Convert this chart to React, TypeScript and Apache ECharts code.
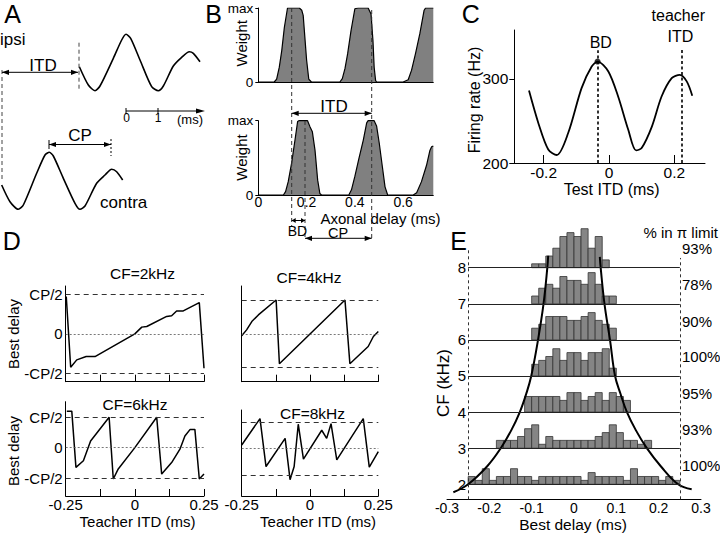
import React, { useEffect, useRef } from "react";
import * as echarts from "echarts";

const FONT = '"Liberation Sans", Arial, Helvetica, sans-serif';

// ---------- Panel A: schematic waveforms (time in ms, amplitude arbitrary)
const ipsiTime = [-1.458, -1.177, -0.969, -0.8125, -0.396, -0.135, 0, 0.146, 0.4375, 0.802, 1.01, 1.167, 1.479, 1.74, 1.979, 2.104, 2.3125];
const ipsiAmp = [-4.2, -22.5, -28.2, -23.5, 4.2, 22.5, 28.2, 24.2, 2.5, -24.2, -28.2, -23.5, -3.5, 5.2, 10.8, 9.2, 0.8];
const contraTime = [-3.885, -3.625, -3.365, -3.208, -2.792, -2.531, -2.396, -2.271, -1.958, -1.594, -1.4375, -1.281, -0.917, -0.656, -0.448, -0.292, -0.104];
const contraAmp = [-4, -20.7, -28.3, -24, 7.7, 26, 28.7, 25, 2.7, -22.3, -28.3, -25, -2.3, 6, 11.7, 9.3, 1];

// ---------- Panel B: weight vs axonal delay (ms), weight 0..max(=1)
const weightTop: [number, number][] = [
  [0, 0], [0.066, 0], [0.076, 0.04], [0.087, 0.2], [0.097, 0.42], [0.108, 0.74], [0.121, 1], [0.17, 1], [0.18, 0.97], [0.186, 0.9], [0.193, 0.6], [0.2, 0.3], [0.209, 0.04], [0.22, 0],
  [0.338, 0], [0.348, 0.045], [0.359, 0.18], [0.37, 0.38], [0.384, 0.69], [0.4, 0.99], [0.414, 1], [0.455, 1], [0.467, 0.92], [0.475, 0.56], [0.48, 0.2], [0.486, 0.02], [0.49, 0],
  [0.6, 0], [0.621, 0.03], [0.635, 0.16], [0.651, 0.38], [0.669, 0.65], [0.687, 0.97], [0.693, 1], [0.725, 1],
];
const weightBottom: [number, number][] = [
  [0, 0], [0.104, 0], [0.113, 0.045], [0.124, 0.18], [0.138, 0.43], [0.152, 0.74], [0.163, 0.99], [0.168, 1], [0.204, 1], [0.214, 0.92], [0.224, 0.85], [0.235, 0.6], [0.246, 0.2], [0.255, 0.02], [0.262, 0],
  [0.375, 0], [0.386, 0.07], [0.4, 0.25], [0.416, 0.48], [0.435, 0.74], [0.449, 0.97], [0.455, 1], [0.48, 1], [0.49, 0.93], [0.501, 0.7], [0.514, 0.38], [0.525, 0.11], [0.536, 0],
  [0.642, 0], [0.656, 0.03], [0.676, 0.18], [0.697, 0.4], [0.711, 0.6], [0.718, 0.65], [0.725, 0.66],
];

// ---------- Panel C: firing rate (Hz) vs test ITD (ms)
const firingRate: [number, number][] = [
  [-0.245, 286], [-0.216, 247], [-0.186, 216], [-0.16, 209.5], [-0.125, 235.6], [-0.084, 289], [-0.053, 314.6], [-0.035, 320.5],
  [-0.002, 308.7], [0.028, 279], [0.059, 239.5], [0.083, 215], [0.1, 217.8], [0.131, 243], [0.161, 279], [0.192, 300.8],
  [0.217, 304.7], [0.238, 297], [0.255, 280],
];
const bdPoint: [number, number] = [-0.035, 320.5];
const teacherItd = 0.2225;

// ---------- Panel D: best delay (units of CP/2) vs teacher ITD (ms)
const bestDelay2k: [number, number][] = [
  [-0.248, 0.945], [-0.232, -0.844], [-0.21, -0.658], [-0.176, -0.574], [-0.144, -0.574], [0, 0], [0.025, 0.17], [0.043, 0.186],
  [0.115, 0.44], [0.133, 0.456], [0.151, 0.58], [0.175, 0.58], [0.233, 0.79], [0.25, -0.87],
];
const bestDelay6k: [number, number][] = [
  [-0.246, 1.2], [-0.228, 1.2], [-0.213, -0.65], [-0.186, -0.43], [-0.16, 0.22], [-0.093, 1.0], [-0.078, -1.03], [-0.06, -0.7],
  [0, 0], [0.079, 1.0], [0.097, -0.87], [0.133, -0.49], [0.163, -0.05], [0.181, 0.38], [0.2, 0.6], [0.217, 0.6], [0.233, -1.03], [0.25, -0.87],
];
const bestDelay4k: [number, number][] = [
  [-0.25, -0.06], [-0.232, 0.12], [-0.213, 0.37], [-0.189, 0.57], [-0.124, 1.02], [-0.112, -0.9], [0.128, 1.02], [0.146, -0.9],
  [0.213, -0.38], [0.232, -0.08], [0.25, 0.07],
];
const bestDelay8k: [number, number][] = [
  [-0.25, 0.14], [-0.183, 1.14], [-0.161, -0.68], [-0.091, 0.39], [-0.073, -1.18], [-0.058, -0.68], [-0.043, 0.93], [-0.024, -0.4],
  [0.043, 0.7], [0.061, 0.39], [0.077, 0.95], [0.098, -0.43], [0.195, 1.14], [0.217, -0.7], [0.25, -0.11],
];

// ---------- Panel E: best-delay histograms per CF (bins of 1/60 ms)
const cfRows = [8, 7, 6, 5, 4, 3, 2];
const rowStartBin = [-6, -6, -6, -6, -7, -11, -15];
const counts8 = [1, 1, 3, 5, 8, 9, 8, 10, 5, 8, 2];
const counts7 = [2, 4, 5, 4, 7, 6, 6, 5, 8, 5, 2, 2];
const counts6 = [3, 4, 6, 6, 6, 5, 5, 6, 7, 5, 4, 3];
const counts5 = [3, 4, 5, 7, 4, 6, 6, 4, 6, 6, 7, 2];
const counts4 = [4, 4, 4, 4, 4, 3, 5, 5, 3, 4, 5, 3, 5, 4, 3];
const counts3 = [2, 2, 2, 3, 5, 6, 1, 3, 2, 2, 2, 2, 2, 2, 3, 4, 6, 4, 2, 2, 1, 2];
const counts2 = [2, 1, 4, 1, 2, 2, 4, 2, 2, 1, 2, 2, 2, 2, 2, 2, 1, 3, 2, 2, 2, 2, 1, 4, 2, 2, 2, 1, 2, 1];
const rowCounts = [counts8, counts7, counts6, counts5, counts4, counts3, counts2];
const piPercent = ["93%", "78%", "90%", "100%", "95%", "93%", "100%"];
const piLimitLeft: [number, number][] = [
  [-0.285, 1.78], [-0.25, 2], [-0.205, 2.5], [-0.173, 3], [-0.148, 3.5], [-0.128, 4], [-0.113, 4.5], [-0.101, 5], [-0.085, 6], [-0.072, 7], [-0.063, 8], [-0.061, 8.33],
];
const piLimitRight: [number, number][] = [
  [0.061, 8.3], [0.063, 8], [0.072, 7], [0.085, 6], [0.097, 5], [0.11, 4.5], [0.125, 4], [0.146, 3.5], [0.172, 3], [0.205, 2.5], [0.246, 2], [0.278, 1.86],
];
const histXTicks = [-0.3, -0.2, -0.1, 0, 0.1, 0.2, 0.3];

const binWidth = 1 / 60;
const countScale = 0.108; // kHz of row height per count

function T(text: string, x: number, y: number, size: number, align = "center", rot = 0) {
  return {
    type: "text", x, y, rotation: rot, silent: true, z: 100,
    style: { text, fill: "#000", font: `${size}px ${FONT}`, textAlign: align, textVerticalAlign: "middle" },
  };
}
function L(x1: number, y1: number, x2: number, y2: number, dash?: number[], w = 1, color = "#000") {
  return { type: "line", silent: true, z: 100, shape: { x1, y1, x2, y2 }, style: { stroke: color, lineWidth: w, lineDash: dash } };
}
function head(x: number, y: number, dir: "l" | "r", s = 7) {
  const d = dir === "r" ? -s : s;
  return { type: "polygon", silent: true, z: 100, shape: { points: [[x, y], [x + d, y - 2.6], [x + d, y + 2.6]] }, style: { fill: "#000" } };
}
function dbl(x1: number, x2: number, y: number, s = 7) {
  return [L(x1, y, x2, y, undefined, 1), head(x1, y, "l", s), head(x2, y, "r", s)];
}

function buildOption() {
  const black = { color: "#000", width: 1 };
  const line = { show: true, onZero: false, lineStyle: black };
  const noSplit = { show: false };
  const lbl = (size: number) => ({ color: "#000", fontFamily: FONT, fontSize: size });

  const grid = [
    { left: 0, top: 32, width: 230, height: 61 },
    { left: 0, top: 150, width: 230, height: 62 },
    { left: 258.3, top: 8, width: 175, height: 74 },
    { left: 258.3, top: 120.7, width: 175, height: 74.3 },
    { left: 514.3, top: 30, width: 190.7, height: 133 },
    { left: 65.7, top: 286, width: 138.3, height: 95.7 },
    { left: 65.7, top: 401.7, width: 138.3, height: 94.3 },
    { left: 241.7, top: 286, width: 136.6, height: 95.7 },
    { left: 241.7, top: 410, width: 136.6, height: 86 },
    { left: 447, top: 229.8, width: 254, height: 269.5 },
  ];

  const dX = (gi: number, labels: boolean) => ({
    gridIndex: gi, type: "value", min: -0.25, max: 0.25, interval: 0.125,
    axisLine: line,
    axisTick: { show: true, inside: true, length: 7, lineStyle: black },
    axisLabel: labels
      ? { show: true, customValues: [-0.25, 0, 0.25], formatter: (v: number) => (v === 0 ? "0" : v.toFixed(2)), margin: 1, ...lbl(15) }
      : { show: false },
    splitLine: noSplit,
  });
  const dY = (gi: number, min: number, max: number, labels: boolean) => ({
    gridIndex: gi, type: "value", min, max,
    axisLine: line,
    axisTick: { show: false },
    axisLabel: labels
      ? { show: true, customValues: [-1, 0, 1], formatter: (v: number) => (v === 1 ? "CP/2" : v === -1 ? "-CP/2" : "0"), margin: 3, ...lbl(15) }
      : { show: false },
    splitLine: noSplit,
  });

  const xAxis = [
    { gridIndex: 0, type: "value", min: -3.9375, max: 3.25, show: false },
    { gridIndex: 1, type: "value", min: -3.9375, max: 3.25, show: false },
    { gridIndex: 2, type: "value", min: 0, max: 0.725, axisLine: line, axisTick: { show: false }, axisLabel: { show: false }, splitLine: noSplit },
    {
      gridIndex: 3, type: "value", min: 0, max: 0.725, axisLine: line, axisTick: { show: false },
      axisLabel: { customValues: [0, 0.2, 0.4, 0.6], formatter: (v: number) => (v === 0 ? "0" : v.toFixed(1)), margin: 0, ...lbl(14) },
      splitLine: noSplit,
    },
    {
      gridIndex: 4, type: "value", min: -0.29, max: 0.294, axisLine: line,
      axisTick: { show: true, inside: true, length: 8, customValues: [-0.2, 0, 0.2], lineStyle: black },
      axisLabel: { customValues: [-0.2, 0, 0.2], formatter: (v: number) => (v === 0 ? "0" : v.toFixed(1)), margin: 1, ...lbl(15.5) },
      splitLine: noSplit,
    },
    dX(5, false), dX(6, true), dX(7, false), dX(8, true),
    {
      gridIndex: 9, type: "value", min: -0.3, max: 0.3, axisLine: line, axisTick: { show: false },
      axisLabel: { customValues: histXTicks, formatter: (v: number) => (v === 0 ? "0" : v.toFixed(1)), margin: 2, ...lbl(14) },
      splitLine: noSplit,
    },
  ];

  const bY = (gi: number) => ({
    gridIndex: gi, type: "value", min: 0, max: 1,
    axisLine: line,
    axisTick: { show: true, length: 3, customValues: [0, 1], lineStyle: black },
    axisLabel: { customValues: [0, 1], formatter: (v: number) => (v === 1 ? "max" : "0"), margin: 5, ...lbl(13.5) },
    splitLine: noSplit,
  });

  const yAxis = [
    { gridIndex: 0, type: "value", min: -30.5, max: 30.5, show: false },
    { gridIndex: 1, type: "value", min: -31, max: 31, show: false },
    bY(2), bY(3),
    {
      gridIndex: 4, type: "value", min: 200, max: 358,
      axisLine: line,
      axisTick: { show: true, length: 5, customValues: [200, 300], lineStyle: black },
      axisLabel: { customValues: [200, 300], margin: 6, ...lbl(15.5) },
      splitLine: noSplit,
    },
    dY(5, -1.21, 1.21, true), dY(6, -1.59, 1.51, true), dY(7, -1.44, 1.44, false), dY(8, -1.8, 1.47, false),
    {
      gridIndex: 9, type: "value", min: 1.584, max: 9.05, offset: -21,
      axisLine: { show: false, onZero: false }, axisTick: { show: false },
      axisLabel: { customValues: cfRows.slice().reverse(), margin: 2, ...lbl(15) },
      splitLine: noSplit,
    },
  ];

  const refLines = {
    symbol: ["none", "none"], silent: true, label: { show: false }, animation: false,
    data: [
      { yAxis: 1, lineStyle: { type: [5, 4], color: "#333", width: 1 } },
      { yAxis: -1, lineStyle: { type: [5, 4], color: "#333", width: 1 } },
      { yAxis: 0, lineStyle: { type: [2, 2], color: "#555", width: 0.8 } },
    ],
  };
  const dSeries = (i: number, data: [number, number][]) => ({
    type: "line", xAxisIndex: i, yAxisIndex: i, data, symbol: "none",
    lineStyle: { color: "#000", width: 1.5 }, markLine: refLines, z: 3,
  });

  const histData: number[][] = [];
  cfRows.forEach((cf, r) => {
    rowCounts[r].forEach((c, i) => histData.push([(rowStartBin[r] + i) * binWidth, cf, c]));
  });

  const series: any[] = [
    { type: "line", xAxisIndex: 0, yAxisIndex: 0, data: ipsiTime.map((t, i) => [t, ipsiAmp[i]]), symbol: "none", smooth: 0.25, lineStyle: { color: "#000", width: 1.6 } },
    { type: "line", xAxisIndex: 1, yAxisIndex: 1, data: contraTime.map((t, i) => [t, contraAmp[i]]), symbol: "none", smooth: 0.25, lineStyle: { color: "#000", width: 1.6 } },
    { type: "line", xAxisIndex: 2, yAxisIndex: 2, data: weightTop, symbol: "none", lineStyle: { color: "#000", width: 1.2 }, areaStyle: { color: "#808080", opacity: 1 } },
    { type: "line", xAxisIndex: 3, yAxisIndex: 3, data: weightBottom, symbol: "none", lineStyle: { color: "#000", width: 1.2 }, areaStyle: { color: "#808080", opacity: 1 } },
    {
      type: "line", xAxisIndex: 4, yAxisIndex: 4, data: firingRate, symbol: "none", smooth: 0.3, lineStyle: { color: "#000", width: 1.8 },
      markLine: {
        symbol: ["none", "none"], silent: true, label: { show: false }, animation: false,
        lineStyle: { type: [3, 2.5], color: "#000", width: 1.6 },
        data: [
          [{ coord: [bdPoint[0], 200] }, { coord: [bdPoint[0], 334] }],
          [{ coord: [teacherItd, 200] }, { coord: [teacherItd, 335.5] }],
        ],
      },
    },
    { type: "scatter", xAxisIndex: 4, yAxisIndex: 4, data: [bdPoint], symbolSize: 6, itemStyle: { color: "#000" }, z: 5 },
    dSeries(5, bestDelay2k), dSeries(6, bestDelay6k), dSeries(7, bestDelay4k), dSeries(8, bestDelay8k),
    {
      type: "custom", xAxisIndex: 9, yAxisIndex: 9, data: histData, encode: { x: 0, y: 1 },
      renderItem: (params: any, api: any) => {
        const x0 = api.value(0), row = api.value(1), c = api.value(2);
        const p0 = api.coord([x0, row]);
        const p1 = api.coord([x0 + binWidth, row + c * countScale]);
        return {
          type: "rect",
          shape: { x: p0[0], y: p1[1], width: p1[0] - p0[0], height: p0[1] - p1[1] },
          style: { fill: "#858585", stroke: "#333", lineWidth: 0.8 },
        };
      },
      markLine: {
        symbol: ["none", "none"], silent: true, label: { show: false }, animation: false,
        data: [
          ...cfRows.map((cf) => [{ coord: [-0.25, cf], lineStyle: { type: "solid", color: "#222", width: 1.2 } }, { coord: [0.25, cf] }]),
          [{ coord: [-0.25, 1.584], lineStyle: { type: [3, 3], color: "#333", width: 1 } }, { coord: [-0.25, 8.5] }],
          [{ coord: [0.25, 1.584], lineStyle: { type: [3, 3], color: "#333", width: 1 } }, { coord: [0.25, 8.27] }],
        ],
      },
      z: 2,
    },
    { type: "line", xAxisIndex: 9, yAxisIndex: 9, data: piLimitLeft, symbol: "none", smooth: 0.4, lineStyle: { color: "#000", width: 2 }, z: 4 },
    { type: "line", xAxisIndex: 9, yAxisIndex: 9, data: piLimitRight, symbol: "none", smooth: 0.4, lineStyle: { color: "#000", width: 2 }, z: 4 },
  ];

  const R = Math.PI / 2;
  const graphic: any[] = [
    // Panel A
    T("A", 12.5, 13.5, 25),
    T("ipsi", 0, 39, 17, "left"),
    L(79, 42.7, 79, 91.7, [4, 3], 1, "#444"),
    L(2, 70, 2, 182, [4, 3], 1, "#444"),
    ...dbl(2, 78, 72.3),
    T("ITD", 43, 65, 17),
    L(126, 111, 200, 111), head(205, 111, "r", 9),
    L(126, 108, 126, 114), L(158, 108, 158, 114),
    T("0", 126.5, 117.5, 12), T("1", 158, 117.5, 12), T("(ms)", 190, 119.5, 13),
    L(49, 140, 49, 149),
    L(111, 139, 111, 156, [2, 2]),
    ...dbl(49, 111, 144.5),
    T("CP", 80, 135, 17),
    T("contra", 100, 202, 17, "left"),
    // Panel B
    T("B", 213.5, 13.5, 25),
    T("Weight", 241.7, 43.3, 15, "center", R),
    T("Weight", 241.7, 157.5, 15, "center", R),
    L(291.7, 8, 291.7, 227, [4, 3], 1, "#333"),
    L(371.7, 10, 371.7, 240, [4, 3], 1, "#333"),
    L(305, 121, 305, 240, [4, 3], 1, "#333"),
    ...dbl(291.7, 371.7, 113.3),
    T("ITD", 334, 106.5, 17),
    ...dbl(291.7, 305, 220.5, 4),
    T("BD", 297.5, 231, 14),
    ...dbl(305, 371.7, 238.3),
    T("CP", 338, 233, 14.5),
    T("Axonal delay (ms)", 380.5, 218, 15),
    // Panel C
    T("C", 470.8, 13.5, 25),
    T("Firing rate (Hz)", 474, 100, 16, "center", R),
    T("Test ITD (ms)", 611.7, 189, 16),
    T("BD", 600.8, 42.5, 16),
    T("teacher", 678.3, 15.5, 16),
    T("ITD", 680.5, 36, 16),
    // Panel D
    T("D", 11.7, 240.5, 25),
    T("CF=2kHz", 142.5, 273.5, 15.5),
    T("CF=6kHz", 135, 404, 15.5),
    T("CF=4kHz", 309, 277.5, 15.5),
    T("CF=8kHz", 312.5, 413, 15.5),
    T("Best delay", 13.3, 334, 15, "center", R),
    T("Best delay", 13.3, 451, 15, "center", R),
    T("Teacher ITD (ms)", 137.5, 521, 15),
    T("Teacher ITD (ms)", 318, 521, 15),
    // Panel E
    T("E", 458.5, 241, 25),
    T("CF (kHz)", 443.3, 383, 17, "center", R),
    T("Best delay (ms)", 573, 524.5, 15.5),
    T("% in \u03c0 limit", 718, 232, 15, "right"),
    ...piPercent.map((p, i) => T(p, 682, [248.3, 284.3, 321, 356.7, 393.3, 429, 465][i], 15, "left")),
  ];

  return {
    animation: false,
    backgroundColor: "#fff",
    textStyle: { fontFamily: FONT },
    grid, xAxis, yAxis, series, graphic,
  };
}

export default function App() {
  const ref = useRef<HTMLDivElement>(null);
  useEffect(() => {
    if (!ref.current) return;
    const chart = echarts.init(ref.current, null, { renderer: "svg", width: 720, height: 533 });
    chart.setOption(buildOption() as any);
    return () => chart.dispose();
  }, []);
  return <div ref={ref} style={{ position: "fixed", left: 0, top: 0, width: 720, height: 533, background: "#fff" }} />;
}
